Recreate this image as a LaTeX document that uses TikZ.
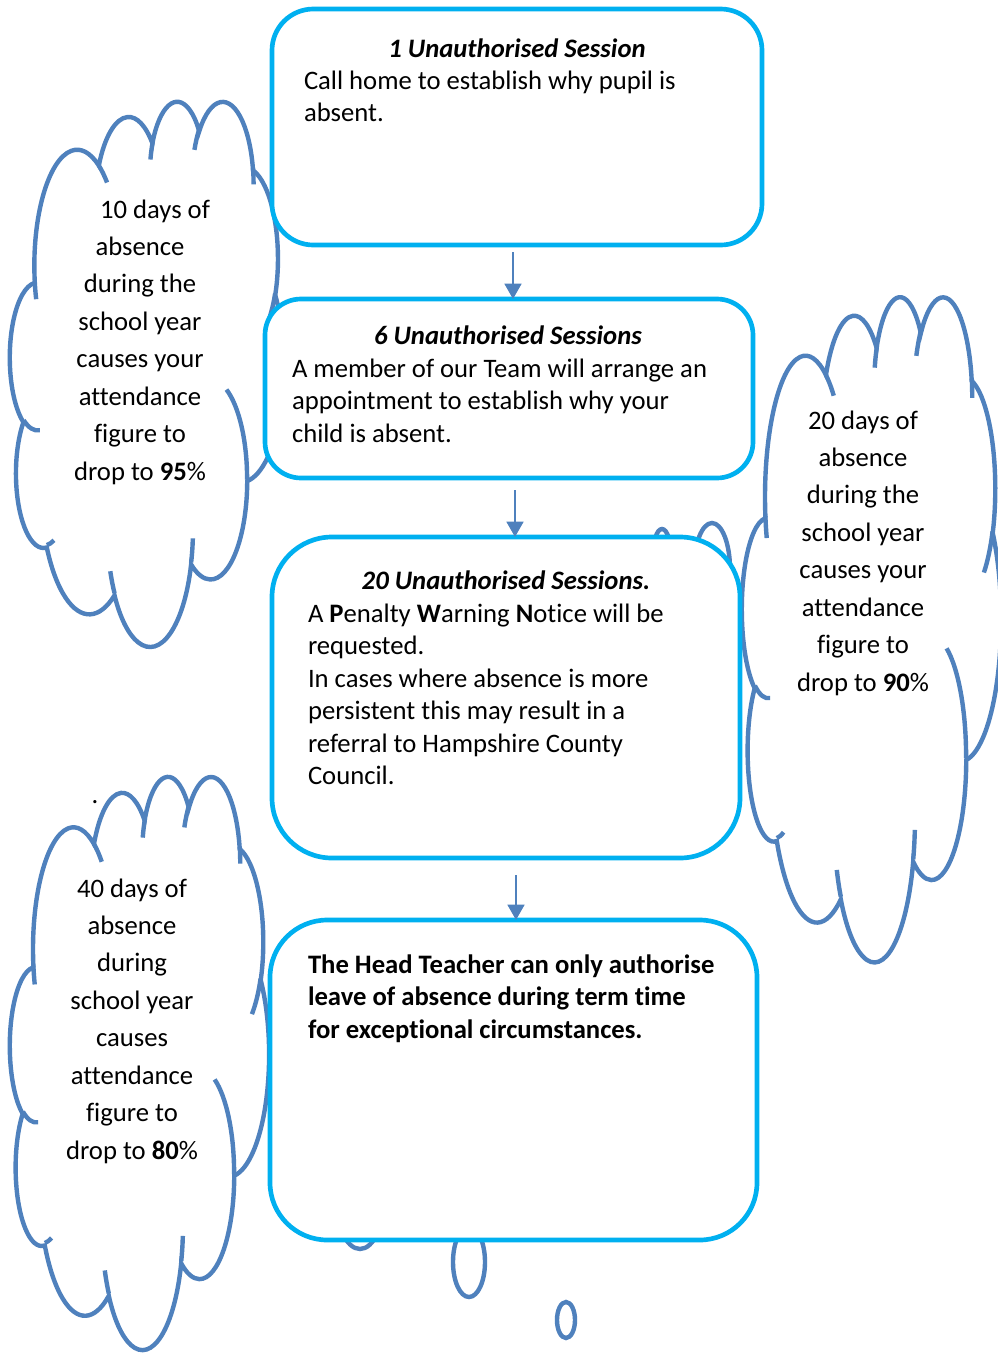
\documentclass[tikz,border=0pt]{standalone}
\usepackage{fontspec}
\setmainfont{Carlito}[Ligatures={NoCommon}]
\usetikzlibrary{arrows.meta,calc}
\definecolor{boxblue}{HTML}{00B0F0}
\definecolor{cloudblue}{HTML}{4F81BD}

% parametric start angle / delta for an OOXML-style arc (visual angles)
\newcommand\defcarc[5]{%
  \pgfmathsetmacro\cldtmpa{atan2((#2)*sin(#4),(#3)*cos(#4))}%
  \pgfmathsetmacro\cldtmpb{atan2((#2)*sin((#4)+(#5)),(#3)*cos((#4)+(#5)))}%
  \pgfmathsetmacro\cldtmpd{mod(\cldtmpb-(\cldtmpa)+720,360)}%
  \expandafter\xdef\csname Cs#1\endcsname{\cldtmpa}%
  \expandafter\xdef\csname Cd#1\endcsname{\cldtmpd}%
}
\defcarc{A}{6.753}{9.190}{-190.4875}{123.7805}
\defcarc{B}{5.333}{7.267}{-144.1024}{89.9452}
\defcarc{C}{4.365}{5.945}{-145.8079}{99.7230}
\defcarc{D}{4.857}{6.595}{-130.9861}{117.2417}
\defcarc{E}{5.333}{7.273}{-78.7089}{109.0269}
\defcarc{F}{6.775}{9.220}{-46.2673}{130.2690}
\defcarc{G}{5.785}{7.867}{0.6250}{114.0333}
\defcarc{H}{6.752}{9.215}{22.4516}{115.1726}
\defcarc{I}{7.720}{10.543}{66.2426}{75.7110}
\defcarc{J}{4.360}{5.918}{-274.9421}{146.7356}
\defcarc{K}{4.345}{5.945}{-246.8285}{152.5189}
\defcarc{a}{4.345}{5.945}{86.7420}{26.4295}
\defcarc{b}{4.360}{5.918}{73.6105}{11.4475}
\defcarc{c}{6.752}{9.215}{137.6242}{14.0811}
\defcarc{d}{6.752}{9.215}{6.4533}{15.9984}
\defcarc{e}{5.785}{7.867}{-70.2924}{70.9174}
\defcarc{f}{5.333}{7.273}{30.3180}{27.7515}
\defcarc{g}{4.857}{6.595}{-13.7443}{14.8549}
\defcarc{h}{4.857}{6.595}{-149.1815}{18.1954}
\defcarc{i}{4.365}{5.945}{-163.4943}{17.6864}
\defcarc{j}{6.753}{9.190}{-66.7070}{12.3194}
\defcarc{k}{6.753}{9.190}{157.6544}{11.8582}

\newcommand\cloudshape{%
  \draw[cloudline,fill=white] (3.9,14.37)
    arc[start angle=\CsA,delta angle=\CdA,x radius=6.753,y radius=9.19]
    arc[start angle=\CsB,delta angle=\CdB,x radius=5.333,y radius=7.267]
    arc[start angle=\CsC,delta angle=\CdC,x radius=4.365,y radius=5.945]
    arc[start angle=\CsD,delta angle=\CdD,x radius=4.857,y radius=6.595]
    arc[start angle=\CsE,delta angle=\CdE,x radius=5.333,y radius=7.273]
    arc[start angle=\CsF,delta angle=\CdF,x radius=6.775,y radius=9.22]
    arc[start angle=\CsG,delta angle=\CdG,x radius=5.785,y radius=7.867]
    arc[start angle=\CsH,delta angle=\CdH,x radius=6.752,y radius=9.215]
    arc[start angle=\CsI,delta angle=\CdI,x radius=7.72,y radius=10.543]
    arc[start angle=\CsJ,delta angle=\CdJ,x radius=4.36,y radius=5.918]
    arc[start angle=\CsK,delta angle=\CdK,x radius=4.345,y radius=5.945]
    -- cycle;
  \draw[cloudline] (4.693,26.177) arc[start angle=\Csa,delta angle=\Cda,x radius=4.345,y radius=5.945];
  \draw[cloudline] (6.928,34.899) arc[start angle=\Csb,delta angle=\Cdb,x radius=4.36,y radius=5.918];
  \draw[cloudline] (16.478,39.09) arc[start angle=\Csc,delta angle=\Cdc,x radius=6.752,y radius=9.215];
  \draw[cloudline] (28.827,34.751) arc[start angle=\Csd,delta angle=\Cdd,x radius=6.752,y radius=9.215];
  \draw[cloudline] (34.129,22.954) arc[start angle=\Cse,delta angle=\Cde,x radius=5.785,y radius=7.867];
  \draw[cloudline] (41.798,15.354) arc[start angle=\Csf,delta angle=\Cdf,x radius=5.333,y radius=7.273];
  \draw[cloudline] (38.324,5.426) arc[start angle=\Csg,delta angle=\Cdg,x radius=4.857,y radius=6.595];
  \draw[cloudline] (29.078,3.952) arc[start angle=\Csh,delta angle=\Cdh,x radius=4.857,y radius=6.595];
  \draw[cloudline] (22.141,4.72) arc[start angle=\Csi,delta angle=\Cdi,x radius=4.365,y radius=5.945];
  \draw[cloudline] (14.0,5.192) arc[start angle=\Csj,delta angle=\Cdj,x radius=6.753,y radius=9.19];
  \draw[cloudline] (4.127,15.789) arc[start angle=\Csk,delta angle=\Cdk,x radius=6.753,y radius=9.19];
}

\begin{document}
\begin{tikzpicture}[x=0.75pt,y=-0.75pt,
  cloudline/.style={draw=cloudblue,line width=3.3pt},
  bubble/.style={draw=cloudblue,line width=3.3pt,fill=white},
  box/.style={draw=boxblue,line width=3.5pt,fill=white,rectangle,inner sep=0pt,outer sep=0pt},
  arr/.style={draw=cloudblue,line width=2pt,-{Triangle[width=12.5pt,length=11.5pt]}},
  txt/.style={inner sep=0pt,outer sep=0pt,font={\fontsize{20}{24.4}\selectfont}},
  ctxt/.style={inner sep=0pt,outer sep=0pt,font={\fontsize{20}{28.1}\selectfont}}]
\useasboundingbox (0,0) rectangle (997,1354);
\fill[white] (0,0) rectangle (997,1354);

% clouds
\begin{scope}[shift={(10,100)},xscale=6.3426,yscale=12.6157]
  \cloudshape
\end{scope}
\begin{scope}[shift={(742,295)},xscale=5.9954,yscale=15.3935]
  \cloudshape
\end{scope}
\begin{scope}[shift={(10,775)},xscale=5.9954,yscale=13.2639]
  \cloudshape
\end{scope}

% callout bubbles
\draw[bubble] (712,569) ellipse [x radius=18,y radius=46];
\draw[bubble] (662,555) ellipse [x radius=9,y radius=26];
\draw[bubble] (360,1194) ellipse [x radius=25,y radius=55];
\draw[bubble] (469,1262) ellipse [x radius=16,y radius=35];
\draw[bubble] (566,1320) ellipse [x radius=9,y radius=18];

% boxes
\node[box,minimum width=367.5pt,minimum height=177pt,rounded corners=31pt] (b1) at (517,127) {};
\node[box,minimum width=366pt,minimum height=134.25pt,rounded corners=27pt] (b2) at (509,388.5) {};
\node[box,minimum width=351pt,minimum height=240.75pt,rounded corners=45pt] (b3) at (506,697.5) {};
\node[box,minimum width=365.25pt,minimum height=240pt,rounded corners=43pt] (b4) at (513.5,1080) {};

% arrows
\coordinate (s1) at ($(b1.south)+(-4,7)$);
\coordinate (s2) at ($(b2.south)+(6,12)$);
\coordinate (s3) at ($(b3.south)+(10,17)$);
\draw[arr] (s1) -- (s1 |- b2.north);
\draw[arr] (s2) -- (s2 |- b3.north);
\draw[arr] (s3) -- (s3 |- b4.north);

% box texts
\node[txt,anchor=base] (t1h) at (517,57) {\textbf{\textit{1 Unauthorised Session}}};
\node[txt,anchor=base west] (t1b) at (304,89) {\begin{tabular}[t]{@{}l@{}}Call home to establish why pupil is\\absent.\end{tabular}};
\node[txt,anchor=base] (t2h) at (508,344) {\textbf{\textit{6 Unauthorised Sessions}}};
\node[txt,anchor=base west] (t2b) at (292,377) {\begin{tabular}[t]{@{}l@{}}A member of our Team will arrange an\\appointment to establish why your\\child is absent.\end{tabular}};
\node[txt,anchor=base] (t3h) at (506,589) {\textbf{\textit{20 Unauthorised Sessions.}}};
\node[txt,anchor=base west] (t3b) at (308,622) {\begin{tabular}[t]{@{}l@{}}A \textbf{P}enalty \textbf{W}arning \textbf{N}otice will be\\requested.\\In cases where absence is more\\persistent this may result in a\\referral to Hampshire County\\Council.\end{tabular}};
\node[txt,anchor=base west] (t4b) at (308,973) {\begin{tabular}[t]{@{}l@{}}\textbf{The Head Teacher can only authorise}\\\textbf{leave of absence during term time}\\\textbf{for exceptional circumstances.}\end{tabular}};

% cloud texts
\node[ctxt,anchor=base] (c1t) at (140,218) {\begin{tabular}[t]{@{}c@{}}\hspace*{22.5pt}10 days of\\absence\\during the\\school year\\causes your\\attendance\\figure to\\drop to \textbf{95}\%\end{tabular}};
\node[ctxt,anchor=base] (c2t) at (863,429) {\begin{tabular}[t]{@{}c@{}}20 days of\\absence\\during the\\school year\\causes your\\attendance\\figure to\\drop to \textbf{90}\%\end{tabular}};
\node[ctxt,anchor=base] (c3t) at (132,897) {\begin{tabular}[t]{@{}c@{}}40 days of\\absence\\during\\school year\\causes\\attendance\\figure to\\drop to \textbf{80}\%\end{tabular}};
\node[txt,anchor=base] (dot) at (95,803) {.};
\end{tikzpicture}
\end{document}
